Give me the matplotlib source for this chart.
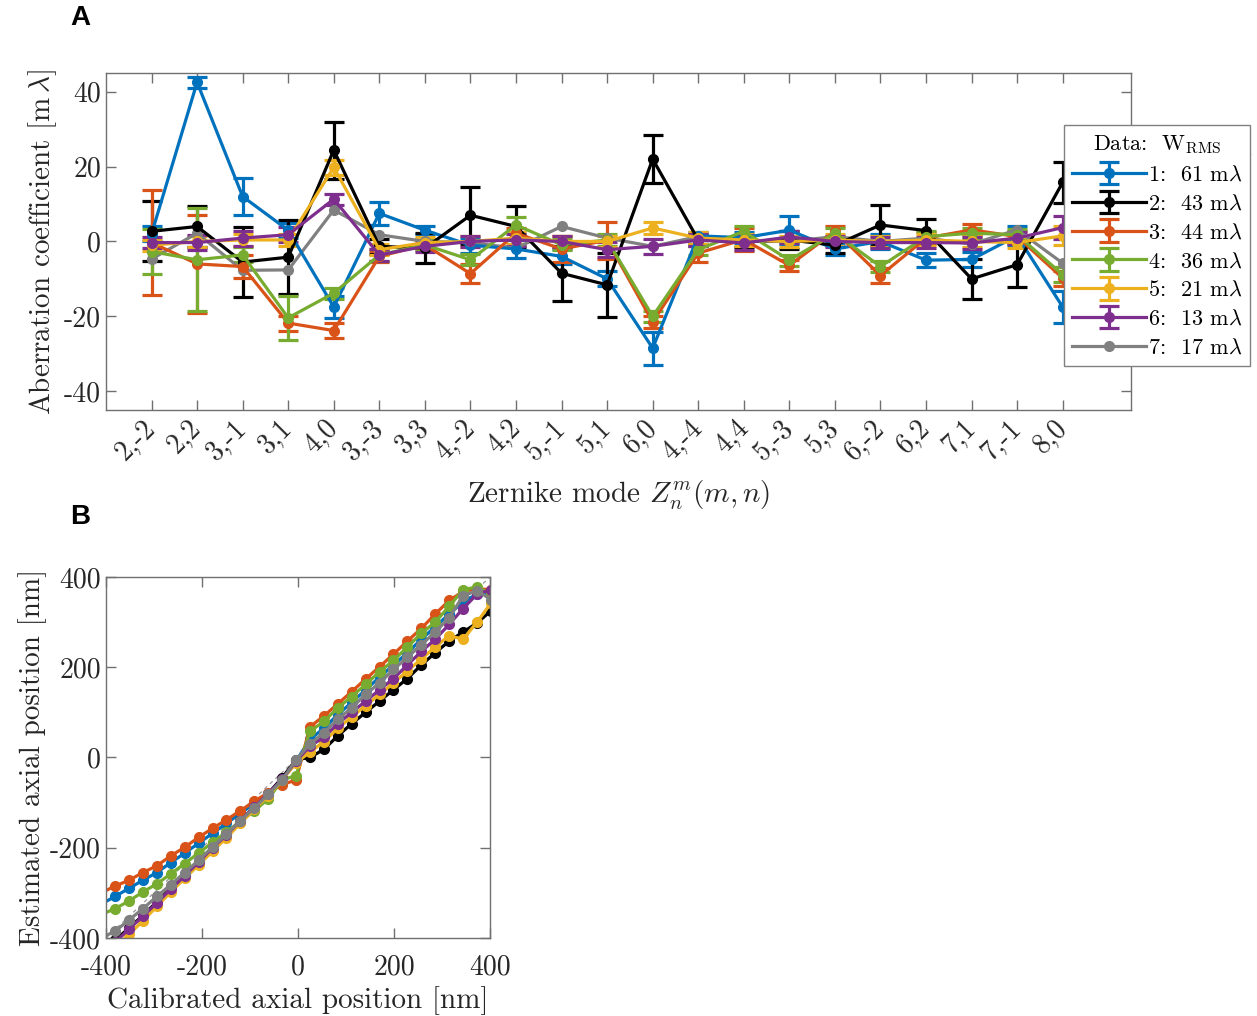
import matplotlib
matplotlib.use("Agg")
import matplotlib.pyplot as plt
import matplotlib.transforms as mtransforms
from matplotlib.lines import Line2D

plt.rcParams['font.family'] = ['cmr10']
plt.rcParams['mathtext.fontset'] = 'cm'
plt.rcParams['axes.unicode_minus'] = False
plt.rcParams['axes.formatter.use_mathtext'] = False

# ---- panel A data: Zernike aberration coefficients [m lambda] ----
modes = ['2,-2', '2,2', '3,-1', '3,1', '4,0', '3,-3', '3,3', '4,-2', '4,2', '5,-1', '5,1',
         '6,0', '4,-4', '4,4', '5,-3', '5,3', '6,-2', '6,2', '7,1', '7,-1', '8,0']

coef_1 = [2, 42.5, 12, 3, -17.5, 7.5, 3, -1, -2, -4, -10, -28.5, 1.5, 1, 3, -2, 0, -5, -4.8, 1.5, -17.5]
err_1 = [2, 1.5, 5, 2, 3, 3, 1, 2, 2.5, 2, 2, 4.4, 1, 1.5, 3.7, 1.5, 2, 1.8, 2, 2.5, 4.4]
coef_2 = [2.7, 4, -5.5, -4.2, 24.4, -1.3, -1.8, 7, 4, -8.5, -11.6, 22, 0.4, 0, 0.4, -1, 4.4, 2.9, -10, -6.2, 15.8]
err_2 = [8, 5.5, 9.4, 9.8, 7.6, 2, 4, 7.6, 5.6, 7.3, 8.6, 6.3, 1.5, 1.5, 2.5, 2, 5.4, 3, 5.3, 6, 5.5]
coef_3 = [-0.3, -6, -6.7, -21.8, -23.8, -4, -0.9, -8.6, 2.2, -2, 0.3, -21.5, -3.1, 0.5, -6.4, 2.7, -9.1, 0.9, 3.1, 1.3, -9.8]
err_3 = [14, 13, 3, 2, 2, 1.5, 1.5, 2.5, 1.5, 3.5, 5, 1.5, 2.5, 3, 1.5, 1.5, 2, 1.5, 1.5, 1.5, 2]
coef_4 = [-2.7, -4.9, -3.6, -20.4, -13.8, -3.6, -0.9, -4.9, 4.4, -0.9, 0.4, -20, -2.2, 2.7, -5, 2.2, -6.7, 1.3, 2.2, 1.8, -8.9]
err_4 = [6, 13.8, 2, 5.8, 1.5, 1.5, 1.5, 1.5, 2, 1.5, 1.5, 1.5, 1.5, 1.5, 1.5, 1.5, 1.5, 1.5, 1.5, 1.5, 2]
coef_5 = [-1, 0, 0.4, 0.4, 19.8, -2.2, -0.3, 0, 0.9, 0, 0, 3.6, 0.9, 0.4, 0, 0.4, 0, 0.4, 0, -0.3, 1.5]
err_5 = [1.5, 1.5, 1.5, 1.5, 2, 1.5, 1.5, 1.5, 1.5, 1.5, 1.5, 1.5, 1.5, 1.5, 1.5, 1.5, 1.5, 1.5, 1.5, 1.5, 2.5]
coef_6 = [-0.3, -0.3, 0.9, 1.8, 11.3, -3.6, -1.3, 0, 0.4, 0, -2.2, -1.3, 0.4, -0.4, 1.2, 0, -0.3, -0.3, -0.4, 0.9, 3.7]
err_6 = [1.5, 2, 2, 2, 1.5, 1.5, 1.5, 1.5, 1.5, 1.5, 2, 2, 1.5, 2, 1.5, 1.5, 1.5, 1.5, 1.5, 1.5, 3]
coef_7 = [-4.7, 2.2, -7.7, -7.6, 8.4, 1.8, 0, -0.3, -1.8, 4, 0.9, -1.3, 1.3, 0, 0, 1.3, 0, 0.9, -0.7, 3.1, -5.8]

labels = ['1:  61 m$\\lambda$', '2:  43 m$\\lambda$', '3:  44 m$\\lambda$', '4:  36 m$\\lambda$',
          '5:  21 m$\\lambda$', '6:  13 m$\\lambda$', '7:  17 m$\\lambda$']
colors = ['#0072BD', '#000000', '#D95319', '#77AC30', '#EDB120', '#7E2F8E', '#808080']

# ---- panel B data: estimated vs calibrated axial position [nm] ----
z_cal = [-410, -381, -352, -323, -294, -265, -236, -207, -178, -149, -120, -91, -62, -33, -4,
         25, 54, 83, 112, 141, 170, 199, 228, 257, 286, 315, 344, 373, 402]
z_1 = [-325, -308, -290, -272, -255, -233, -212, -190, -168, -146, -124, -102, -80, -48, -8,
       40, 65, 95, 122, 150, 178, 205, 232, 262, 290, 318, 345, 362, 365]
z_2 = [-425, -405, -378, -350, -320, -290, -260, -230, -200, -170, -140, -110, -80, -45, -5,
       0, 18, 48, 75, 100, 125, 150, 175, 205, 232, 258, 278, 298, 325]
z_3 = [-300, -285, -272, -255, -240, -218, -199, -177, -157, -138, -118, -97, -78, -60, -50,
       68, 92, 119, 146, 174, 201, 229, 258, 286, 318, 348, 368, 374, 372]
z_4 = [-348, -335, -318, -298, -280, -258, -235, -212, -188, -165, -142, -118, -92, -50, -40,
       58, 80, 110, 135, 162, 190, 215, 245, 275, 300, 335, 372, 378, 362]
z_5 = [-440, -420, -392, -362, -330, -298, -268, -238, -208, -178, -146, -115, -85, -50, -12,
       12, 35, 65, 90, 115, 140, 165, 192, 218, 245, 270, 262, 300, 342]
z_6 = [-430, -410, -380, -352, -322, -292, -262, -232, -200, -172, -140, -110, -80, -48, -8,
       25, 45, 75, 100, 125, 150, 175, 205, 235, 262, 295, 330, 362, 372]
z_7 = [-400, -385, -360, -335, -308, -282, -255, -228, -198, -170, -140, -112, -82, -50, -5,
       30, 55, 85, 110, 140, 165, 195, 222, 250, 278, 310, 358, 370, 350]

spine_col = '#707070'
text_col = '#262626'

fig = plt.figure(figsize=(12.57, 10.16), dpi=100)

# ================= panel A =================
axA = fig.add_axes([0.0843, 0.5965, 0.8155, 0.3317])
x = list(range(1, len(modes) + 1))
handles = []
for vals, errs, c in zip([coef_1, coef_2, coef_3, coef_4, coef_5, coef_6],
                         [err_1, err_2, err_3, err_4, err_5, err_6], colors[:6]):
    h = axA.errorbar(x, vals, yerr=errs, color=c, lw=2.3, marker='o', ms=7,
                     capsize=7, capthick=2.3, elinewidth=2.3)
    handles.append(h)
h7, = axA.plot(x, coef_7, color=colors[6], lw=2.3, marker='o', ms=7)
handles.append(h7)

axA.set_xlim(0, 22.5)
axA.set_ylim(-45, 45)
axA.set_yticks([-40, -20, 0, 20, 40])
axA.set_xticks(x)
axA.set_xticklabels(modes, rotation=45, ha='right', va='center', rotation_mode='anchor')
shift = mtransforms.ScaledTranslation(17 / 100, 0, fig.dpi_scale_trans)
for lbl in axA.get_xticklabels():
    lbl.set_transform(lbl.get_transform() + shift)
axA.set_ylabel('Aberration coefficient [m$\\,\\lambda$]', fontsize=21, color=text_col)
axA.set_xlabel('Zernike mode $Z_n^m(m,n)$', fontsize=21, color=text_col, labelpad=10)

# ================= panel B =================
axB = fig.add_axes([0.0843, 0.0768, 0.3055, 0.3553])
axB.plot([-400, 400], [-400, 400], ls=(0, (3, 3)), color='#999999', lw=0.9)
for zs, c in zip([z_1, z_2, z_3, z_4, z_5, z_6, z_7], colors):
    axB.plot(z_cal, zs, color=c, lw=2.3, marker='o', ms=7)
axB.set_xlim(-400, 400)
axB.set_ylim(-400, 400)
axB.set_xticks([-400, -200, 0, 200, 400])
axB.set_yticks([-400, -200, 0, 200, 400])
axB.set_xlabel('Calibrated axial position [nm]', fontsize=21, color=text_col, labelpad=4)
axB.set_ylabel('Estimated axial position [nm]', fontsize=21, color=text_col, labelpad=2)

for ax in (axA, axB):
    for s in ax.spines.values():
        s.set_color(spine_col)
        s.set_linewidth(1.0)
    ax.tick_params(direction='in', length=7, width=1.0, color=spine_col,
                   top=True, right=True, labelsize=20, labelcolor=text_col)

axA.tick_params(axis='x', pad=10)
axB.tick_params(axis='x', pad=12)

# legend (MATLAB style with title separator)
leg = fig.legend(handles, labels, loc='upper right', bbox_to_anchor=(1250 / 1257, 1 - 125 / 1016),
                 title='Data:  W$_{\\mathrm{RMS}}$', fontsize=16, title_fontsize=16,
                 frameon=True, fancybox=False, edgecolor='#808080', framealpha=1,
                 borderpad=0.35, labelspacing=0.42, handlelength=3.3, handletextpad=0.1,
                 borderaxespad=0)
leg.get_frame().set_linewidth(1.0)
fig.add_artist(Line2D([1070 / 1257, 1250 / 1257], [1 - 154 / 1016, 1 - 154 / 1016],
                      color='#808080', lw=1.0))

fig.text(80 / 1257, 1 - 18 / 1016, 'A', fontsize=20, fontweight='bold',
         family='Liberation Sans', ha='center', va='center')
fig.text(80 / 1257, 1 - 517 / 1016, 'B', fontsize=20, fontweight='bold',
         family='Liberation Sans', ha='center', va='center')

fig.savefig('out.png', dpi=100)
